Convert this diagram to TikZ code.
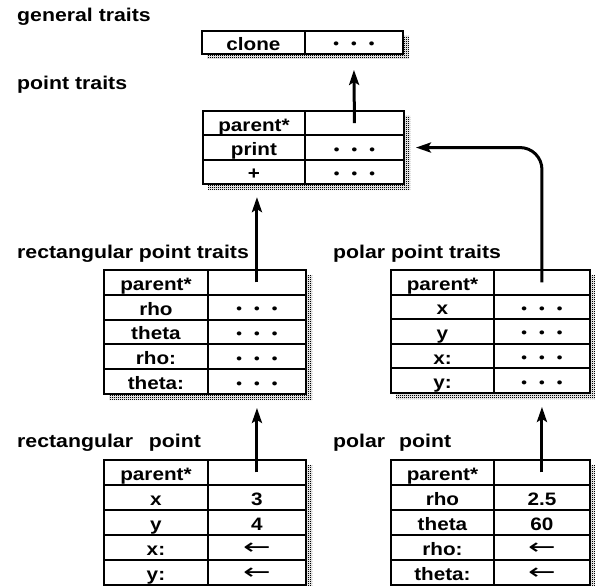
\documentclass[tikz,border=0pt]{standalone}
\usepackage{fontspec}
\setmainfont{Liberation Sans Bold}[FakeStretch=1.15]
\newfontfamily\arrfont{DejaVu Sans}[FakeStretch=1.5]
\usetikzlibrary{calc,arrows.meta,patterns.meta}
\pgfdeclarepattern{
  name=stipple,
  type=uncolored,
  bottom left={\pgfpoint{0pt}{0pt}},
  top right={\pgfpoint{2pt}{2pt}},
  tile size={\pgfpoint{2pt}{2pt}},
  code={
    \pgfpathrectangle{\pgfpoint{0pt}{0pt}}{\pgfpoint{1.25pt}{1.25pt}}
    \pgfpathrectangle{\pgfpoint{1pt}{1pt}}{\pgfpoint{1pt}{1pt}}
    \pgfusepath{fill}
  }
}
\newcommand\dotsval{\raisebox{1.5pt}{\fontsize{14}{14}\selectfont •\hspace{12pt}•\hspace{12pt}•}}
\newcommand\arrval{\raisebox{0.5pt}{\arrfont\fontsize{22}{22}\selectfont ←}}
\tikzset{
  cellbox/.style={draw, line width=1.9pt, inner sep=0pt, anchor=north west,
    text height=16pt, text depth=0pt, font=\fontsize{18}{18}\selectfont},
  lbl/.style={anchor=base west, inner sep=0pt, font=\fontsize{18.5}{18.5}\selectfont},
  ptr/.style={line width=3pt, -{Stealth[length=15pt, width=10pt, inset=3pt]}},
  shadowfill/.style={pattern=stipple, pattern color=black, draw=none},
}
% #1 name, #2 xl, #3 xm, #4 xr, #5 top, #6 row height, #7 key/value list
\newcommand\objtable[7]{%
  \foreach \kk/\vv [count=\i] in {#7} {%
    \pgfmathsetmacro\yt{#5+(\i-1)*#6}
    \node[cellbox, minimum width={(#3-#2)*1pt}, minimum height={#6*1pt}] (#1-\i k) at (#2,\yt) {\kk};
    \node[cellbox, minimum width={(#4-#3)*1pt}, minimum height={#6*1pt}] (#1-\i v) at (#3,\yt) {\vv};
  }%
}
\begin{document}
\begin{tikzpicture}[x=1pt,y=-1pt]
\useasboundingbox (0,0) rectangle (595,586);

% labels
\node[lbl] (lgt) at (17,22) {general traits};
\node[lbl] (lpt) at (17,89) {point traits};
\node[lbl] (lrt) at (17,258) {rectangular point traits};
\node[lbl] (lqt) at (333,258) {polar point traits};
\node[lbl] (lrp) at (17,447) {rectangular\hspace{10pt} point};
\node[lbl] (lqp) at (333,447) {polar\hspace{8pt} point};

% shadows (drawn directly)
\path[shadowfill] (403,36) -- (409,36) -- (409,59) -- (207,59) -- (207,54) -- (403,54) -- cycle;
\path[shadowfill] (404,116) -- (410,116) -- (410,190) -- (208,190) -- (208,184) -- (404,184) -- cycle;
\path[shadowfill] (306,275) -- (312,275) -- (312,400) -- (109,400) -- (109,394) -- (306,394) -- cycle;
\path[shadowfill] (590,275) -- (596,275) -- (596,399) -- (396,399) -- (396,393) -- (590,393) -- cycle;
\path[shadowfill] (306,465) -- (312,465) -- (312,591) -- (109,591) -- (109,585) -- (306,585) -- cycle;
\path[shadowfill] (590,465) -- (596,465) -- (596,591) -- (396,591) -- (396,585) -- (590,585) -- cycle;

% objects
\objtable{gt}{201}{304}{402}{30}{23}{clone/\dotsval}
\objtable{pt}{202}{304}{403}{110}{24.4}{parent*/{}, print/\dotsval, +/\dotsval}
\objtable{rt}{103}{207}{305}{269}{24.8}{parent*/{}, rho/\dotsval, theta/\dotsval, rho:/\dotsval, theta:/\dotsval}
\objtable{qt}{390}{493}{589}{269}{24.6}{parent*/{}, x/\dotsval, y/\dotsval, x:/\dotsval, y:/\dotsval}
\objtable{rp}{103}{207}{305}{459}{25}{parent*/{}, x/3, y/4, x:/\arrval, y:/\arrval}
\objtable{qp}{390}{493}{589}{459}{25}{parent*/{}, rho/2.5, theta/60, rho:/\arrval, theta:/\arrval}

% parent pointers
\draw[ptr] (pt-1v.center) -- ($(gt-1v.south)+(0,15)$);
\draw[ptr] (rt-1v.center) -- ($(rt-1v.center |- pt-3k.south)+(0,12)$);
\draw[ptr, rounded corners=22pt] (qt-1v.center) |- ($(pt-2v.east)+(11,0)$);
\draw[ptr] (rp-1v.center) -- ($(rp-1v.center |- rt-5v.south)+(0,13)$);
\draw[ptr] (qp-1v.center) -- ($(qp-1v.center |- qt-5v.south)+(0,13)$);
\end{tikzpicture}
\end{document}
